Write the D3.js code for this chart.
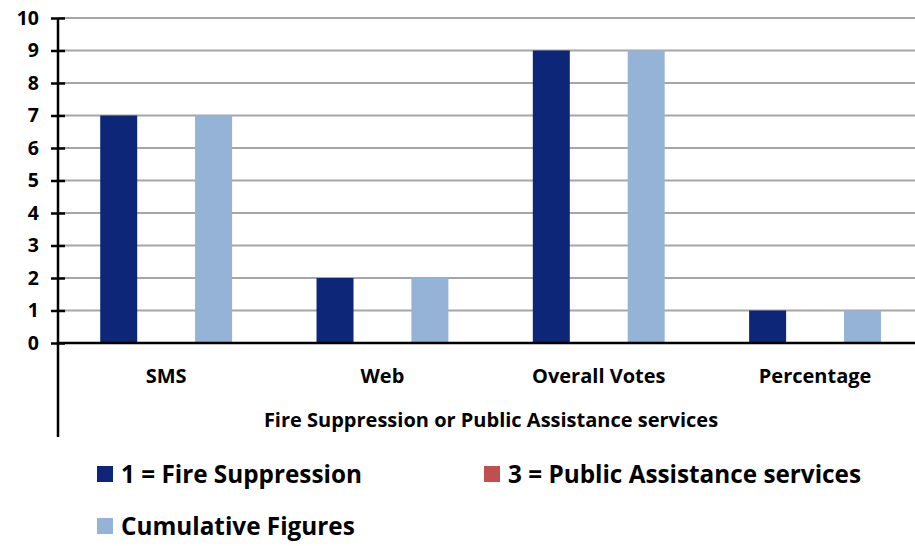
<!DOCTYPE html>
<html>
<head>
<meta charset="utf-8">
<script src="https://cdn.jsdelivr.net/npm/d3@7"></script>
<style>
  body { margin: 0; background: #fff; }
  text { font-family: "Open Sans", Lato, sans-serif; font-weight: bold; }
</style>
</head>
<body>
<div id="chart"></div>
<script>
// Data
const categories = ["SMS", "Web", "Overall Votes", "Percentage"];
const seriesNames = ["1 = Fire Suppression", "3 = Public Assistance services", "Cumulative Figures"];
const fireSuppression = [7, 2, 9, 1];
const publicAssistance = [0, 0, 0, 0];
const cumulativeFigures = [7, 2, 9, 1];
const yTicks = [0, 1, 2, 3, 4, 5, 6, 7, 8, 9, 10];
const axisTitle = "Fire Suppression or Public Assistance services";

const colors = ["#0e2677", "#c0504d", "#95b3d7"];
const seriesValues = [fireSuppression, publicAssistance, cumulativeFigures];

const width = 915, height = 546;
const margin = { top: 18, left: 58, bottom: 343 };

const svg = d3.select("#chart").append("svg")
  .attr("width", width)
  .attr("height", height);

// scales
const x0 = d3.scaleBand()
  .domain(categories)
  .range([margin.left, margin.left + 4 * 216.3])
  .paddingInner(0).paddingOuter(0);

const x1 = d3.scaleBand()
  .domain(seriesNames)
  .range([37, 216.3 - 37])
  .paddingInner(0.22)
  .paddingOuter(0.11);

const y = d3.scaleLinear()
  .domain([0, 10])
  .range([margin.bottom, margin.top]);

// gridlines
svg.append("g")
  .selectAll("line")
  .data(yTicks.filter(d => d > 0))
  .join("line")
  .attr("x1", margin.left)
  .attr("x2", width)
  .attr("y1", d => y(d))
  .attr("y2", d => y(d))
  .attr("stroke", "#a6a6a6")
  .attr("stroke-width", 2);

// bars
const groups = svg.append("g")
  .selectAll("g")
  .data(categories)
  .join("g")
  .attr("transform", d => `translate(${x0(d)},0)`);

groups.selectAll("rect")
  .data((d, i) => seriesNames.map((s, j) => ({ series: s, value: seriesValues[j][i], color: colors[j] })))
  .join("rect")
  .attr("x", d => x1(d.series))
  .attr("width", x1.bandwidth())
  .attr("y", d => y(d.value))
  .attr("height", d => y(0) - y(d.value))
  .attr("fill", d => d.color);

// y axis
const yAxis = svg.append("g")
  .attr("transform", `translate(${margin.left},0)`)
  .call(d3.axisLeft(y).tickValues(yTicks).tickSize(7).tickPadding(12));
yAxis.select(".domain").remove();
yAxis.selectAll(".tick line")
  .attr("x1", -7).attr("x2", 7)
  .attr("stroke", "#000").attr("stroke-width", 2.5);
yAxis.selectAll(".tick text")
  .attr("font-size", 19.5)
  .attr("font-family", "'Open Sans', Lato, sans-serif")
  .attr("font-weight", "bold")
  .attr("fill", "#000");

// axis lines
svg.append("line")
  .attr("x1", margin.left).attr("x2", margin.left)
  .attr("y1", y(10)).attr("y2", 437)
  .attr("stroke", "#000").attr("stroke-width", 2.5);
svg.append("line")
  .attr("x1", margin.left).attr("x2", width)
  .attr("y1", y(0)).attr("y2", y(0))
  .attr("stroke", "#000").attr("stroke-width", 2.5);

// category labels
svg.append("g")
  .selectAll("text")
  .data(categories)
  .join("text")
  .attr("x", d => x0(d) + x0.bandwidth() / 2)
  .attr("y", 383)
  .attr("text-anchor", "middle")
  .attr("font-size", 20)
  .text(d => d);

// axis title
svg.append("text")
  .attr("x", 491)
  .attr("y", 427)
  .attr("text-anchor", "middle")
  .attr("font-size", 20)
  .text(axisTitle);

// legend
const legendPos = [[97, 474], [484, 474], [97, 526]];
const legend = svg.append("g")
  .selectAll("g")
  .data(seriesNames)
  .join("g")
  .attr("transform", (d, i) => `translate(${legendPos[i][0]},${legendPos[i][1]})`);
legend.append("rect")
  .attr("x", 0).attr("y", -8)
  .attr("width", 16).attr("height", 16)
  .attr("fill", (d, i) => colors[i]);
legend.append("text")
  .attr("x", 24)
  .attr("y", 9)
  .attr("font-size", 24.3)
  .text(d => d);
</script>
</body>
</html>
